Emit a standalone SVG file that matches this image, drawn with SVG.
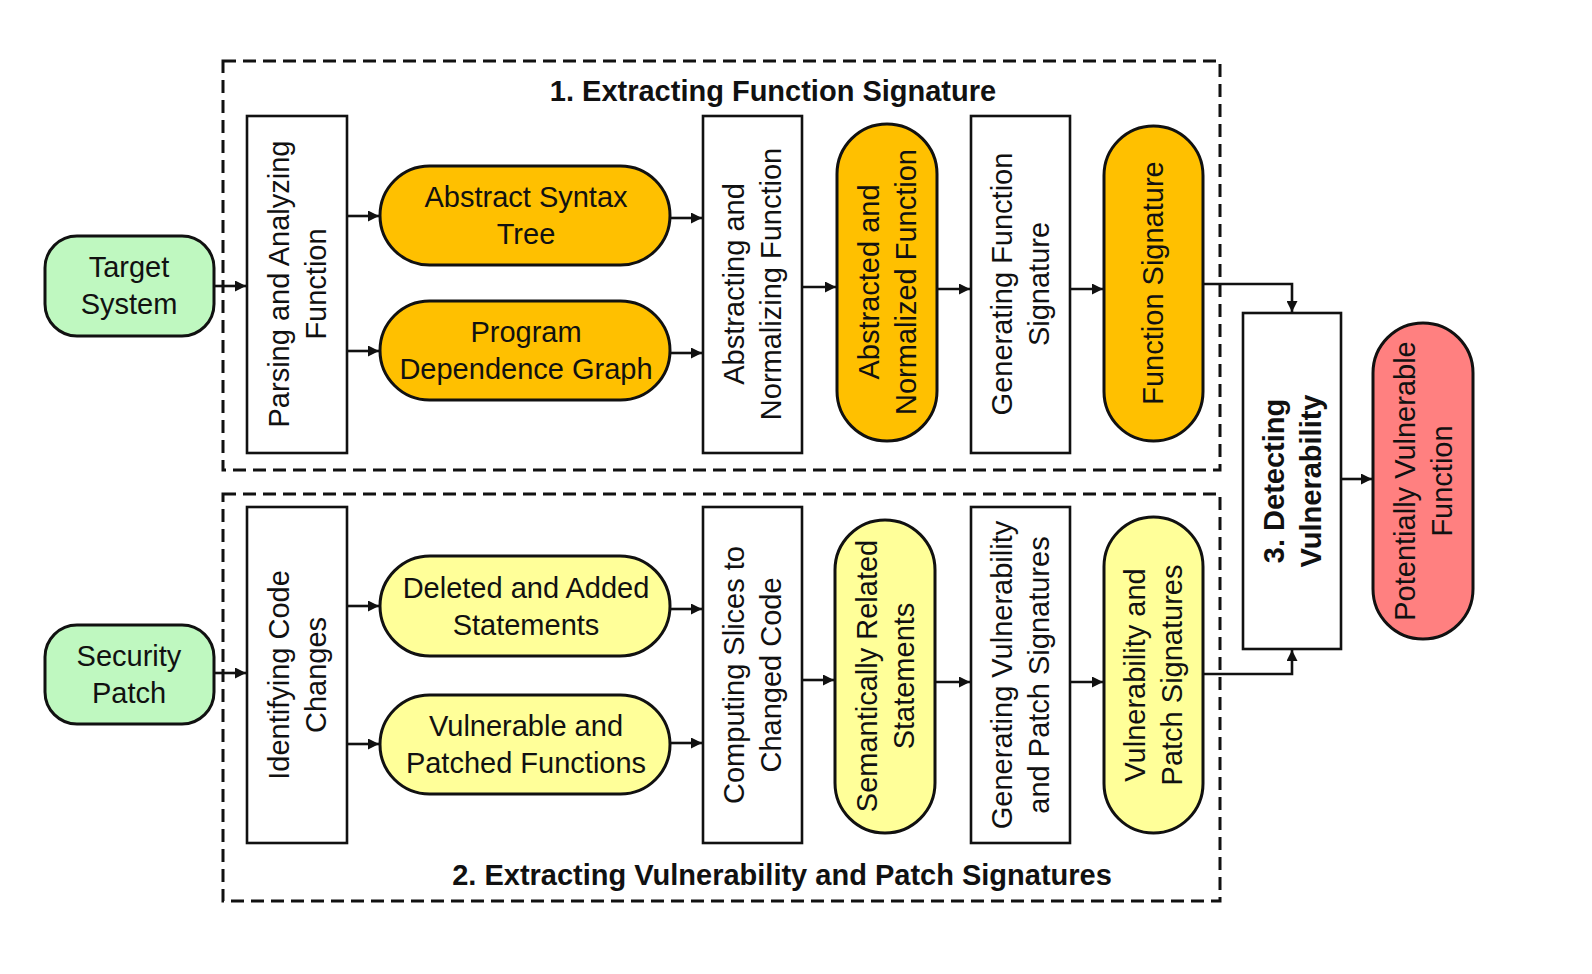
<svg xmlns="http://www.w3.org/2000/svg" width="1592" height="974" viewBox="0 0 1592 974">
<defs>
<style>
text{font-family:"Liberation Sans",Arial,Helvetica,sans-serif;font-size:29px;fill:#111;text-anchor:middle;dominant-baseline:central}
.b{font-weight:bold}
.box{fill:#fff;stroke:#111;stroke-width:2.6}
.pill{stroke:#111;stroke-width:3}
.green{fill:#bff8c0}
.orange{fill:#ffc000}
.yellow{fill:#ffff99}
.red{fill:#ff8080}
.dash{fill:none;stroke:#111;stroke-width:3;stroke-dasharray:13 7}
.ln{fill:none;stroke:#111;stroke-width:2.6}
</style>
<marker id="ah" viewBox="0 0 10 10" refX="10" refY="5" markerWidth="13" markerHeight="11" markerUnits="userSpaceOnUse" orient="auto">
<path d="M0,0 L10,5 L0,10 z" fill="#111"/>
</marker>
</defs>
<rect width="1592" height="974" fill="#fff"/>

<g id="group1">
<rect class="dash" x="223" y="61" width="997" height="409"/>
<text class="b" x="773" y="91">1. Extracting Function Signature</text>
</g>
<g id="group2">
<rect class="dash" x="223" y="494" width="997" height="407"/>
<text class="b" x="782" y="875">2. Extracting Vulnerability and Patch Signatures</text>
</g>

<g id="connectors">
<path class="ln" d="M214,286 H246" marker-end="url(#ah)"/>
<path class="ln" d="M347,216 H379" marker-end="url(#ah)"/>
<path class="ln" d="M347,351 H379" marker-end="url(#ah)"/>
<path class="ln" d="M670,218 H702" marker-end="url(#ah)"/>
<path class="ln" d="M670,353 H702" marker-end="url(#ah)"/>
<path class="ln" d="M802,287 H836" marker-end="url(#ah)"/>
<path class="ln" d="M937,289 H970" marker-end="url(#ah)"/>
<path class="ln" d="M1070,289 H1103" marker-end="url(#ah)"/>
<path class="ln" d="M1203,284 H1292 V312" marker-end="url(#ah)"/>
<path class="ln" d="M1341,479 H1372" marker-end="url(#ah)"/>
<path class="ln" d="M214,673 H246" marker-end="url(#ah)"/>
<path class="ln" d="M347,606 H379" marker-end="url(#ah)"/>
<path class="ln" d="M347,744 H379" marker-end="url(#ah)"/>
<path class="ln" d="M670,609 H702" marker-end="url(#ah)"/>
<path class="ln" d="M670,743 H702" marker-end="url(#ah)"/>
<path class="ln" d="M802,680 H834" marker-end="url(#ah)"/>
<path class="ln" d="M935,682 H970" marker-end="url(#ah)"/>
<path class="ln" d="M1070,682 H1103" marker-end="url(#ah)"/>
<path class="ln" d="M1203,674 H1292 V650" marker-end="url(#ah)"/>
</g>

<g id="target-system">
<rect class="pill green" x="45" y="236" width="169" height="100" rx="32"/>
<text x="129" y="267">Target</text>
<text x="129" y="304">System</text>
</g>
<g id="security-patch">
<rect class="pill green" x="45" y="625" width="169" height="99" rx="32"/>
<text x="129" y="656">Security</text>
<text x="129" y="693">Patch</text>
</g>

<g id="parsing">
<rect class="box" x="247" y="116" width="100" height="337"/>
<text transform="translate(297,284) rotate(-90)"><tspan x="0" y="-18.5">Parsing and Analyzing</tspan><tspan x="0" y="18.5">Function</tspan></text>
</g>
<g id="ast">
<rect class="pill orange" x="380" y="166" width="290" height="99" rx="49.5"/>
<text x="526" y="197">Abstract Syntax</text>
<text x="526" y="234">Tree</text>
</g>
<g id="pdg">
<rect class="pill orange" x="380" y="301" width="290" height="99" rx="49.5"/>
<text x="526" y="332">Program</text>
<text x="526" y="369">Dependence Graph</text>
</g>
<g id="abstracting">
<rect class="box" x="703" y="116" width="99" height="337"/>
<text transform="translate(752,284) rotate(-90)"><tspan x="0" y="-18.5">Abstracting and</tspan><tspan x="0" y="18.5">Normalizing Function</tspan></text>
</g>
<g id="abstracted">
<rect class="pill orange" x="837" y="124" width="100" height="317" rx="50"/>
<text transform="translate(887,282) rotate(-90)"><tspan x="0" y="-18.5">Abstracted and</tspan><tspan x="0" y="18.5">Normalized Function</tspan></text>
</g>
<g id="generating-fs">
<rect class="box" x="971" y="116" width="99" height="337"/>
<text transform="translate(1020,284) rotate(-90)"><tspan x="0" y="-18.5">Generating Function</tspan><tspan x="0" y="18.5">Signature</tspan></text>
</g>
<g id="function-signature">
<rect class="pill orange" x="1104" y="126" width="99" height="315" rx="49.5"/>
<text transform="translate(1153,283) rotate(-90)">Function Signature</text>
</g>

<g id="identifying">
<rect class="box" x="247" y="507" width="100" height="336"/>
<text transform="translate(297,675) rotate(-90)"><tspan x="0" y="-18.5">Identifying Code</tspan><tspan x="0" y="18.5">Changes</tspan></text>
</g>
<g id="deleted-added">
<rect class="pill yellow" x="380" y="556" width="290" height="100" rx="50"/>
<text x="526" y="588">Deleted and Added</text>
<text x="526" y="625">Statements</text>
</g>
<g id="vuln-patched">
<rect class="pill yellow" x="380" y="695" width="290" height="99" rx="49.5"/>
<text x="526" y="726">Vulnerable and</text>
<text x="526" y="763">Patched Functions</text>
</g>
<g id="computing">
<rect class="box" x="703" y="507" width="99" height="336"/>
<text transform="translate(752,675) rotate(-90)"><tspan x="0" y="-18.5">Computing Slices to</tspan><tspan x="0" y="18.5">Changed Code</tspan></text>
</g>
<g id="semantically">
<rect class="pill yellow" x="835" y="520" width="100" height="313" rx="50"/>
<text transform="translate(885,676) rotate(-90)"><tspan x="0" y="-18.5">Semantically Related</tspan><tspan x="0" y="18.5">Statements</tspan></text>
</g>
<g id="generating-vps">
<rect class="box" x="971" y="507" width="99" height="336"/>
<text transform="translate(1020,675) rotate(-90)"><tspan x="0" y="-18.5">Generating Vulnerability</tspan><tspan x="0" y="18.5">and Patch Signatures</tspan></text>
</g>
<g id="vps">
<rect class="pill yellow" x="1104" y="517" width="99" height="316" rx="49.5"/>
<text transform="translate(1153,675) rotate(-90)"><tspan x="0" y="-18.5">Vulnerability and</tspan><tspan x="0" y="18.5">Patch Signatures</tspan></text>
</g>

<g id="detecting">
<rect class="box" x="1243" y="313" width="98" height="336"/>
<text class="b" transform="translate(1292,481) rotate(-90)"><tspan x="0" y="-18.5">3. Detecting</tspan><tspan x="0" y="18.5">Vulnerability</tspan></text>
</g>
<g id="potentially-vulnerable">
<rect class="pill red" x="1373" y="323" width="100" height="316" rx="50"/>
<text transform="translate(1423,481) rotate(-90)"><tspan x="0" y="-18.5">Potentially Vulnerable</tspan><tspan x="0" y="18.5">Function</tspan></text>
</g>
</svg>
